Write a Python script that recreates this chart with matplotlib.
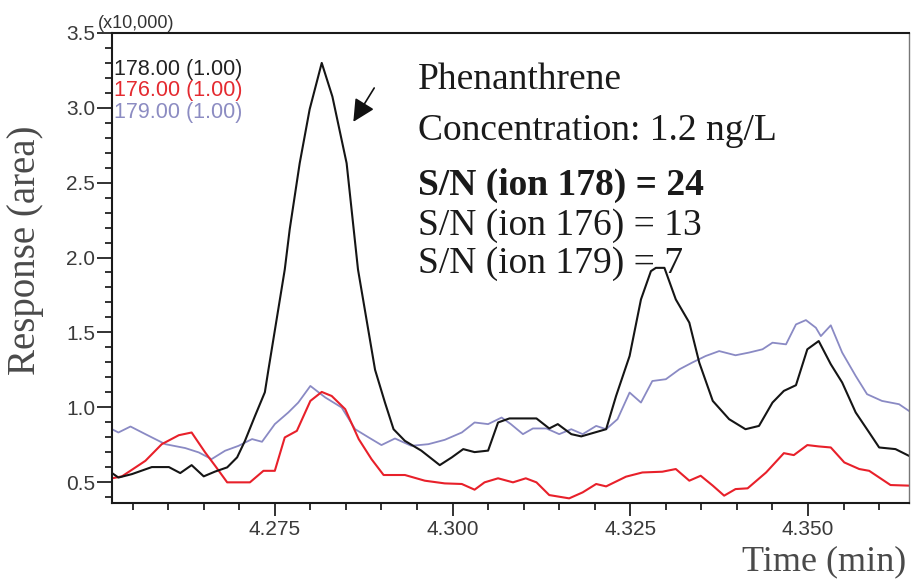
import matplotlib
matplotlib.use("Agg")
import matplotlib.pyplot as plt
from matplotlib.ticker import MultipleLocator, FixedLocator, FormatStrFormatter

# ---- data (time in min, response in x10,000) ----
t_178 = [4.2521, 4.2530, 4.2549, 4.2577, 4.2601, 4.2617, 4.2633, 4.2650, 4.2666, 4.2683,
         4.2697, 4.2708, 4.2722, 4.2736, 4.2741, 4.2764, 4.2771, 4.2785, 4.2799, 4.2816,
         4.2831, 4.2851, 4.2867, 4.2891, 4.2905, 4.2917, 4.2933, 4.2956, 4.2982, 4.2999,
         4.3015, 4.3031, 4.3050, 4.3064, 4.3080, 4.3118, 4.3136, 4.3148, 4.3167, 4.3181,
         4.3197, 4.3216, 4.3230, 4.3249, 4.3265, 4.3279, 4.3286, 4.3298, 4.3314, 4.3333,
         4.3347, 4.3366, 4.3389, 4.3412, 4.3431, 4.3450, 4.3466, 4.3483, 4.3499, 4.3515,
         4.3532, 4.3548, 4.3567, 4.3586, 4.3600, 4.3623, 4.3642]
r_178 = [0.56, 0.53, 0.553, 0.60, 0.60, 0.56, 0.613, 0.538, 0.57, 0.598,
         0.665, 0.775, 0.94, 1.10, 1.25, 1.92, 2.19, 2.63, 2.99, 3.30,
         3.075, 2.63, 1.92, 1.25, 1.03, 0.853, 0.775, 0.71, 0.613, 0.665,
         0.72, 0.70, 0.71, 0.898, 0.925, 0.925, 0.858, 0.887, 0.82, 0.805,
         0.827, 0.853, 1.075, 1.342, 1.72, 1.909, 1.931, 1.931, 1.72, 1.565,
         1.298, 1.042, 0.92, 0.853, 0.875, 1.031, 1.109, 1.147, 1.387, 1.442,
         1.287, 1.165, 0.965, 0.831, 0.731, 0.72, 0.675]

t_176 = [4.2521, 4.2535, 4.2549, 4.2568, 4.2591, 4.2615, 4.2633, 4.2652, 4.2666, 4.2683,
         4.2715, 4.2734, 4.2750, 4.2764, 4.2781, 4.2800, 4.2816, 4.2830, 4.2849, 4.2868,
         4.2886, 4.2903, 4.2933, 4.2961, 4.2989, 4.3013, 4.3031, 4.3045, 4.3064, 4.3085,
         4.3103, 4.3118, 4.3136, 4.3164, 4.3183, 4.3202, 4.3216, 4.3244, 4.3267, 4.3295,
         4.3314, 4.3333, 4.3349, 4.3366, 4.3382, 4.3398, 4.3415, 4.3441, 4.3466, 4.3480,
         4.3499, 4.3515, 4.3532, 4.3551, 4.3572, 4.3586, 4.3616, 4.3642]
r_176 = [0.525, 0.538, 0.582, 0.642, 0.753, 0.813, 0.831, 0.698, 0.609, 0.498,
         0.498, 0.575, 0.575, 0.798, 0.842, 1.042, 1.102, 1.075, 0.987, 0.787,
         0.653, 0.547, 0.547, 0.509, 0.491, 0.487, 0.449, 0.498, 0.525, 0.498,
         0.525, 0.498, 0.413, 0.391, 0.431, 0.487, 0.471, 0.536, 0.564, 0.569,
         0.587, 0.509, 0.542, 0.476, 0.409, 0.453, 0.458, 0.564, 0.693, 0.68,
         0.747, 0.738, 0.731, 0.631, 0.587, 0.575, 0.48, 0.476]

t_179 = [4.2521, 4.2530, 4.2547, 4.2568, 4.2596, 4.2624, 4.2643, 4.2661, 4.2680, 4.2699,
         4.2718, 4.2732, 4.2750, 4.2769, 4.2783, 4.2800, 4.2821, 4.2844, 4.2863, 4.2882,
         4.2900, 4.2919, 4.2942, 4.2966, 4.2989, 4.3013, 4.3031, 4.3050, 4.3069, 4.3082,
         4.3099, 4.3113, 4.3132, 4.3150, 4.3167, 4.3183, 4.3202, 4.3216, 4.3232, 4.3249,
         4.3265, 4.3281, 4.3300, 4.3319, 4.3337, 4.3356, 4.3375, 4.3398, 4.3417, 4.3436,
         4.3450, 4.3469, 4.3483, 4.3497, 4.3511, 4.3518, 4.3532, 4.3548, 4.3567, 4.3583,
         4.3604, 4.3628, 4.3642]
r_179 = [0.853, 0.831, 0.871, 0.82, 0.753, 0.727, 0.698, 0.653, 0.709, 0.742,
         0.787, 0.769, 0.887, 0.965, 1.031, 1.142, 1.065, 0.998, 0.853, 0.798,
         0.747, 0.791, 0.742, 0.753, 0.782, 0.831, 0.898, 0.887, 0.931, 0.887,
         0.82, 0.858, 0.858, 0.82, 0.853, 0.82, 0.875, 0.853, 0.92, 1.098,
         1.031, 1.175, 1.187, 1.253, 1.298, 1.342, 1.375, 1.347, 1.365, 1.387,
         1.431, 1.42, 1.553, 1.582, 1.531, 1.475, 1.547, 1.365, 1.209, 1.087,
         1.042, 1.02, 0.975]

legend_labels = ["178.00 (1.00)", "176.00 (1.00)", "179.00 (1.00)"]
x_ticks = [4.275, 4.300, 4.325, 4.350]
y_ticks = [0.5, 1.0, 1.5, 2.0, 2.5, 3.0, 3.5]
info_lines = ["Phenanthrene", "Concentration: 1.2 ng/L", "S/N (ion 178) = 24",
              "S/N (ion 176) = 13", "S/N (ion 179) = 7"]

c_178, c_176, c_179 = "#151515", "#e8202a", "#8a8ac4"

fig = plt.figure(figsize=(9.12, 5.82), dpi=100)
ax = fig.add_axes([112/912, 79/582, 797/912, 470/582])

ax.plot(t_179, r_179, color=c_179, lw=1.3)
ax.plot(t_176, r_176, color=c_176, lw=1.5)
ax.plot(t_178, r_178, color=c_178, lw=1.5)

ax.set_xlim(4.2521, 4.3642)
ax.set_ylim(0.36, 3.5)

ax.xaxis.set_major_locator(FixedLocator(x_ticks))
ax.xaxis.set_minor_locator(MultipleLocator(0.005))
ax.yaxis.set_major_locator(FixedLocator(y_ticks))
ax.yaxis.set_minor_locator(MultipleLocator(0.1))
ax.xaxis.set_major_formatter(FormatStrFormatter("%.3f"))
ax.yaxis.set_major_formatter(FormatStrFormatter("%.1f"))

sans = "Liberation Sans"
serif = "Liberation Serif"
for lab in ax.get_xticklabels() + ax.get_yticklabels():
    lab.set_fontfamily(sans)
ax.tick_params(axis="both", which="major", direction="out", labelsize=15,
               labelcolor="#3a3a3a", color="#222222", width=1.3)
ax.tick_params(axis="x", which="major", length=9, pad=3)
ax.tick_params(axis="y", which="major", length=11, pad=1)
ax.tick_params(axis="both", which="minor", direction="out", length=5,
               color="#222222", width=1.3)
ax.tick_params(top=False, right=False, which="both")

for s in ["left", "bottom", "top"]:
    ax.spines[s].set_color("#1a1a1a")
    ax.spines[s].set_linewidth(1.5)
ax.spines["right"].set_color("#777777")
ax.spines["right"].set_linewidth(1.0)

# legend-like labels
for lab, col, yb in zip(legend_labels, ["#222222", "#e42a30", "#8c8cc2"],
                        [0.9106, 0.866, 0.819]):
    ax.text(0.002, yb, lab, transform=ax.transAxes, color=col, fontsize=15.5,
            fontfamily=sans, va="baseline", ha="left")

ax.text(-0.018, 1.011, "(x10,000)", transform=ax.transAxes, color="#333333",
        fontsize=13, fontfamily=sans, va="baseline", ha="left", clip_on=False)

# info text
info_y = [0.881, 0.772, 0.655, 0.570, 0.489]
for i, (line, yb) in enumerate(zip(info_lines, info_y)):
    ax.text(0.384, yb, line, transform=ax.transAxes, color="#1a1a1a",
            fontsize=27, fontfamily=serif, va="baseline", ha="left",
            fontweight="bold" if i == 2 else "normal")

# arrow
ax.annotate("", xy=(0.3028, 0.811), xytext=(0.3290, 0.8830),
            xycoords="axes fraction", textcoords="axes fraction",
            arrowprops=dict(arrowstyle="-|>,head_length=0.9,head_width=0.45",
                            mutation_scale=15, shrinkA=0, shrinkB=0,
                            color="#111111", lw=1.2))

ax.text(-0.108, 0.538, "Response (area)", transform=ax.transAxes, rotation=90,
        color="#4a4a4a", fontsize=28, fontfamily=serif, va="center", ha="center")
ax.text(0.997, -0.1426, "Time (min)", transform=ax.transAxes, color="#4a4a4a",
        fontsize=26, fontfamily=serif, va="baseline", ha="right")

fig.savefig("out.png", dpi=100)
